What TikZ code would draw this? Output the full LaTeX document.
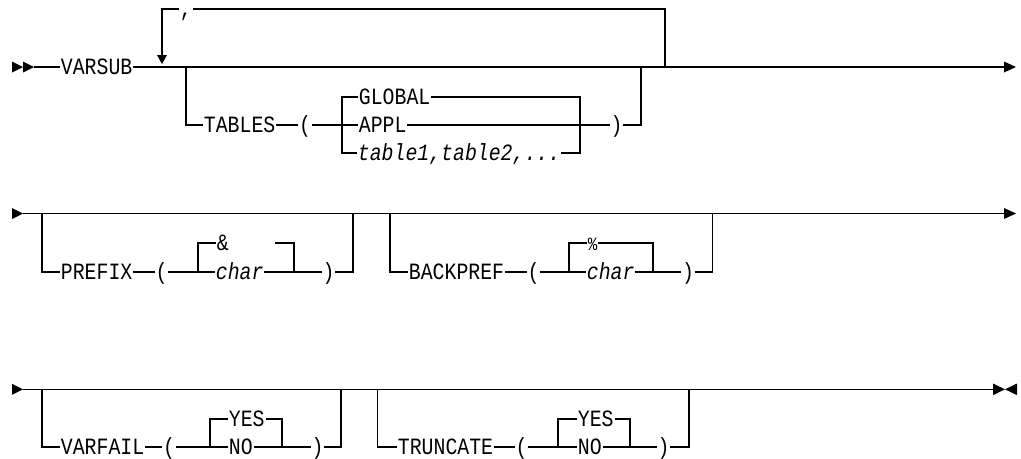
\documentclass[tikz,border=0pt]{standalone}
\usepackage{fontspec}
\newfontfamily\railfont[FakeStretch=0.85]{Liberation Mono}
\begin{document}
\begin{tikzpicture}[x=0.75pt,y=-0.75pt,
  rail/.style={line width=0.85pt, draw=black},
  word/.style={inner xsep=0.5pt, inner ysep=0pt, text height=11.5pt, text depth=0pt,
               font=\railfont\fontsize{17.5}{19}\selectfont, anchor=west},
  var/.style={word, font=\railfont\itshape\fontsize{17.5}{19}\selectfont},
  paren/.style={word, anchor=center},
  tip/.style={fill=black}]
\useasboundingbox (0,0) rectangle (1021,458);

% ---------- line 1: VARSUB and the TABLES option ----------
\fill[tip] (12,61.5) -- (23,67) -- (12,72.5) -- cycle;
\fill[tip] (23,61.5) -- (34,67) -- (23,72.5) -- cycle;
\coordinate (s1) at (34,67);
\node[word] (varsub) at (60,67) {VARSUB};
\coordinate (e1) at (1004,67);
\draw[rail] (s1) -- (varsub.west);
\draw[rail] (varsub.east) -- (e1);
\fill[tip] (1004,61.5) -- (1016,67) -- (1004,72.5) -- cycle;

% repeat loop with separator
\node[word, text height=0pt, anchor=base west] (comma) at (179,16.7) {,};
\coordinate (loopTop) at (162,9);
\coordinate (loopR) at (665,67);
\coordinate (loopL) at (162,55);
\draw[rail] (loopR) -- (665,9) -- (comma.east |- loopTop);
\draw[rail] (comma.west |- loopTop) -- (loopTop) -- (loopL);
\fill[tip] (157,55) -- (167,55) -- (162,64) -- cycle;

% TABLES ( GLOBAL | APPL | table1,table2,... )
\coordinate (tbA) at (186,67);
\node[word] (tables) at (203,125) {TABLES};
\draw[rail] (tbA) -- (186,125) -- (tables.west);
\node[paren] (tlp) at (305,125) {(};
\draw[rail] (tables.east) -- (tlp.west);
\node[word] (global) at (358,97) {GLOBAL};
\node[word] (appl) at (358,125) {APPL};
\node[var] (tlist) at (357,153) {table1,table2,...};
\draw[rail] (tlp.east) -- (appl.west);
\draw[rail] (global.west) -- (342,97) -- (342,153) -- (tlist.west);
\draw[rail] (global.east) -- (580,97) -- (580,153) -- (tlist.east);
\node[paren] (trp) at (616.5,125) {)};
\draw[rail] (appl.east) -- (trp.west);
\coordinate (tbB) at (641,67);
\draw[rail] (trp.east) -- (641,125) -- (tbB);

% ---------- line 2: PREFIX and BACKPREF ----------
\fill[tip] (12,208) -- (23,213.5) -- (12,219) -- cycle;
\coordinate (s2) at (23,213.5);
\coordinate (e2) at (1004,213.5);
\draw[rail] (s2) -- (e2);
\fill[tip] (1004,208) -- (1016,213.5) -- (1004,219) -- cycle;

% PREFIX ( & | char )
\coordinate (pfA) at (42,213.5);
\node[word] (prefix) at (60,272) {PREFIX};
\draw[rail] (pfA) -- (42,272) -- (prefix.west);
\node[paren] (plp) at (161.5,272) {(};
\draw[rail] (prefix.east) -- (plp.west);
\node[word] (amp) at (216,243) {\&};
\node[var] (pchar) at (215,272) {char};
\draw[rail] (plp.east) -- (pchar.west);
\draw[rail] (amp.west) -- (198,243) -- (198,272);
\coordinate (ampR) at (275,243);
\draw[rail] (ampR) -- (294,243) -- (294,272);
\node[paren] (prp) at (328.5,272) {)};
\draw[rail] (pchar.east) -- (prp.west);
\coordinate (pfB) at (353,213.5);
\draw[rail] (prp.east) -- (353,272) -- (pfB);

% BACKPREF ( % | char )
\coordinate (bpA) at (390,213.5);
\node[word] (backpref) at (408,272) {BACKPREF};
\draw[rail] (bpA) -- (390,272) -- (backpref.west);
\node[paren] (blp) at (533.5,272) {(};
\draw[rail] (backpref.east) -- (blp.west);
\node[word, font=\railfont\fontsize{14}{16}\selectfont] (pct) at (587,243) {\%};
\node[var] (bchar) at (586,272) {char};
\draw[rail] (blp.east) -- (bchar.west);
\draw[rail] (pct.west) -- (569,243) -- (569,272);
\draw[rail] (pct.east) -- (653,243) -- (653,272);
\node[paren] (brp) at (688,272) {)};
\draw[rail] (bchar.east) -- (brp.west);
\coordinate (bpB) at (712.5,213.5);
\draw[rail] (brp.east) -- (712.5,272) -- (bpB);

% ---------- line 3: VARFAIL and TRUNCATE ----------
\fill[tip] (12,383.8) -- (23,389.3) -- (12,394.8) -- cycle;
\coordinate (s3) at (23,389.3);
\coordinate (e3) at (993,389.3);
\draw[rail] (s3) -- (e3);
\fill[tip] (993,383.5) -- (1005,389.3) -- (993,395.1) -- cycle;
\fill[tip] (1017,383.5) -- (1005,389.3) -- (1017,395.1) -- cycle;

% VARFAIL ( YES | NO )
\coordinate (vfA) at (42,389.3);
\node[word] (varfail) at (60,447) {VARFAIL};
\draw[rail] (vfA) -- (42,447) -- (varfail.west);
\node[paren] (vlp) at (169,447) {(};
\draw[rail] (varfail.east) -- (vlp.west);
\node[word] (vyes) at (228,419) {YES};
\node[word] (vno) at (228,447) {NO};
\draw[rail] (vlp.east) -- (vno.west);
\draw[rail] (vyes.west) -- (210,419) -- (210,447);
\draw[rail] (vyes.east) -- (282,419) -- (282,447);
\node[paren] (vrp) at (317.5,447) {)};
\draw[rail] (vno.east) -- (vrp.west);
\coordinate (vfB) at (341,389.3);
\draw[rail] (vrp.east) -- (341,447) -- (vfB);

% TRUNCATE ( YES | NO )
\coordinate (trA) at (377.5,389.3);
\node[word] (truncate) at (397,447) {TRUNCATE};
\draw[rail] (trA) -- (377.5,447) -- (truncate.west);
\node[paren] (xlp) at (521.5,447) {(};
\draw[rail] (truncate.east) -- (xlp.west);
\node[word] (xyes) at (577,419) {YES};
\node[word] (xno) at (577,447) {NO};
\draw[rail] (xlp.east) -- (xno.west);
\draw[rail] (xyes.west) -- (558,419) -- (558,447);
\draw[rail] (xyes.east) -- (630,419) -- (630,447);
\node[paren] (xrp) at (663.5,447) {)};
\draw[rail] (xno.east) -- (xrp.west);
\coordinate (trB) at (689,389.3);
\draw[rail] (xrp.east) -- (689,447) -- (trB);
\end{tikzpicture}
\end{document}
